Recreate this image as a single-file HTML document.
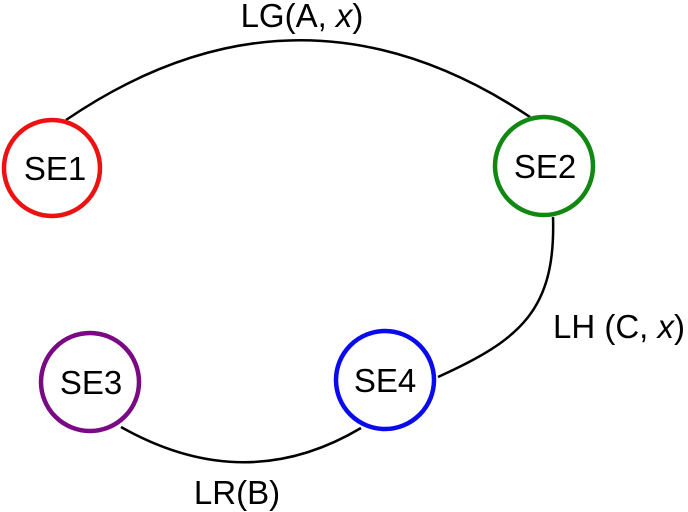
<!DOCTYPE html>
<html><head><style>
html,body{margin:0;padding:0;background:#fff;}
svg{display:block;}
text{font-family:"Liberation Sans",sans-serif;fill:#000;}
</style></head><body>
<svg width="688" height="512" viewBox="0 0 688 512" xmlns="http://www.w3.org/2000/svg">
<g fill="none" stroke="#000" stroke-width="2.5">
<path d="M66,120 Q298,-38 530,117"/>
<path d="M553,217 C556,310 520,340 438,377"/>
<path d="M121,427 Q245,497 361,428"/>
</g>
<g fill="#fff" stroke-width="4.5">
<circle cx="52" cy="168" r="48" stroke="#ee1111"/>
<circle cx="544" cy="166" r="49" stroke="#118811"/>
<circle cx="90" cy="382" r="49" stroke="#7a0a84"/>
<circle cx="385" cy="380" r="49" stroke="#0a0aee"/>
</g>
<g font-size="33" text-anchor="middle">
<text x="55" y="180">SE1</text>
<text x="545" y="178">SE2</text>
<text x="91" y="394">SE3</text>
<text x="385" y="392">SE4</text>
</g>
<g font-size="33">
<text x="302" y="27" text-anchor="middle">LG(A, <tspan font-style="italic">x</tspan>)</text>
<text x="553" y="338">LH (C, <tspan font-style="italic">x</tspan>)</text>
<text x="237" y="504" text-anchor="middle">LR(B)</text>
</g>
</svg>
</body></html>
